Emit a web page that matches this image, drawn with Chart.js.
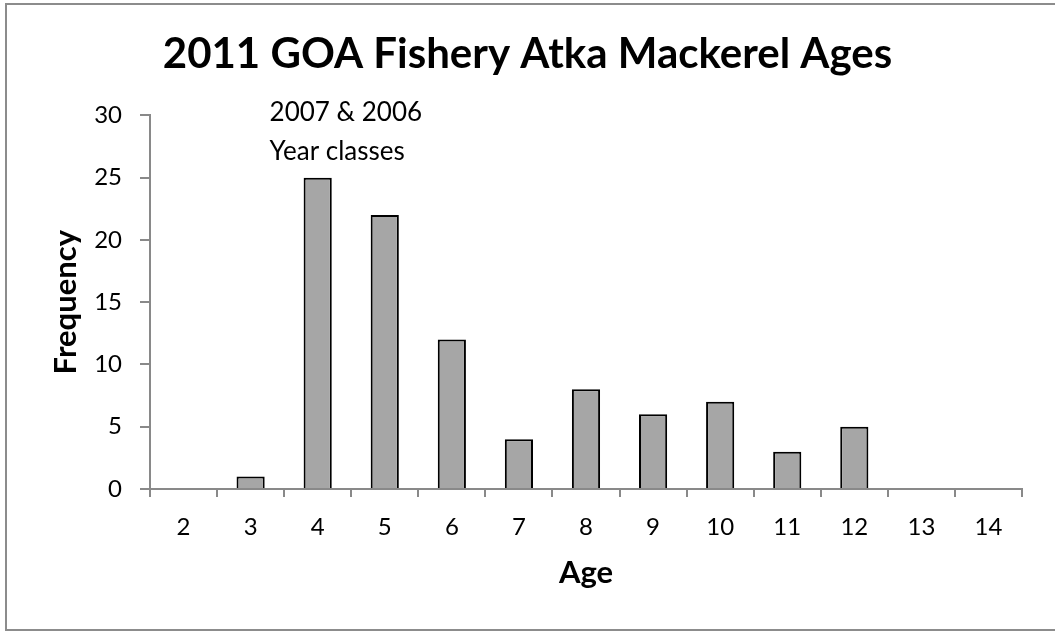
<!DOCTYPE html>
<html>
<head>
<meta charset="utf-8">
<script src="https://cdn.jsdelivr.net/npm/chart.js@4/dist/chart.umd.min.js"></script>
<style>
  html, body { margin: 0; padding: 0; background: #ffffff; }
  #wrap { position: absolute; left: 0; top: 0; width: 1055px; height: 632px; }
</style>
</head>
<body>
<div id="wrap"><canvas id="c" width="1055" height="632"></canvas></div>
<script>
const categories = ['2', '3', '4', '5', '6', '7', '8', '9', '10', '11', '12', '13', '14'];
const frequency = [0, 1, 25, 22, 12, 4, 8, 6, 7, 3, 5, 0, 0];
const yTicks = [0, 5, 10, 15, 20, 25, 30];
const titleText = '2011 GOA Fishery Atka Mackerel Ages';
const annotationLines = ['2007 & 2006', 'Year classes'];

const FONT = 'Lato, "Open Sans", "DejaVu Sans", sans-serif';
const AXIS_GRAY = '#898989';

const frame = {
  id: 'frame',
  beforeDraw(chart) {
    const ctx = chart.ctx;
    ctx.save();
    ctx.fillStyle = '#ffffff';
    ctx.fillRect(0, 0, chart.width, chart.height);
    ctx.strokeStyle = '#8c8c8c';
    ctx.lineWidth = 2;
    ctx.strokeRect(6, 4, chart.width + 20, 626);
    ctx.restore();
  }
};

const note = {
  id: 'note',
  afterDatasetsDraw(chart) {
    const ctx = chart.ctx;
    const xs = chart.scales.x, ys = chart.scales.y;
    const x = xs.getPixelForValue(1) + 19;
    const y0 = ys.getPixelForValue(30) - 3;
    ctx.save();
    ctx.fillStyle = '#000000';
    ctx.font = '26px ' + FONT;
    ctx.textAlign = 'left';
    ctx.textBaseline = 'middle';
    annotationLines.forEach((t, i) => ctx.fillText(t, x, y0 + i * 39));
    ctx.restore();
  }
};

new Chart(document.getElementById('c'), {
  type: 'bar',
  data: {
    labels: categories,
    datasets: [{
      data: frequency,
      backgroundColor: '#a6a6a6',
      borderColor: '#000000',
      borderWidth: 2,
      categoryPercentage: 1,
      barPercentage: 0.42
    }]
  },
  options: {
    responsive: false,
    animation: false,
    devicePixelRatio: 1,
    layout: { padding: { left: 33, right: 33, top: 0, bottom: 0 } },
    plugins: {
      legend: { display: false },
      tooltip: { enabled: false },
      title: {
        display: true,
        text: titleText,
        color: '#000000',
        font: { family: FONT, size: 42, weight: 'bold' },
        padding: { top: 29, bottom: 36 }
      }
    },
    scales: {
      x: {
        grid: {
          offset: true,
          drawOnChartArea: false,
          drawTicks: true,
          tickLength: 8,
          color: AXIS_GRAY,
          lineWidth: 2
        },
        border: { display: true, color: AXIS_GRAY, width: 2 },
        ticks: {
          color: '#000000',
          font: { family: FONT, size: 24 },
          padding: 16,
          maxRotation: 0
        },
        title: {
          display: true,
          text: 'Age',
          color: '#000000',
          font: { family: FONT, size: 31, weight: 'bold' },
          padding: { top: 0, bottom: 40 }
        },
        afterFit(scale) { scale.height = 143; }
      },
      y: {
        min: 0,
        max: 30,
        afterBuildTicks(scale) { scale.ticks = yTicks.map(v => ({ value: v })); },
        grid: {
          drawOnChartArea: false,
          drawTicks: true,
          tickLength: 10,
          color: AXIS_GRAY,
          lineWidth: 2
        },
        border: { display: true, color: AXIS_GRAY, width: 2 },
        ticks: {
          color: '#000000',
          font: { family: FONT, size: 24 },
          padding: 18
        },
        title: {
          display: true,
          text: 'Frequency',
          color: '#000000',
          font: { family: FONT, size: 31, weight: 'bold' },
          padding: { top: 14, bottom: 0 }
        },
        afterFit(scale) { scale.width = 117; }
      }
    }
  },
  plugins: [frame, note]
});
</script>
</body>
</html>
